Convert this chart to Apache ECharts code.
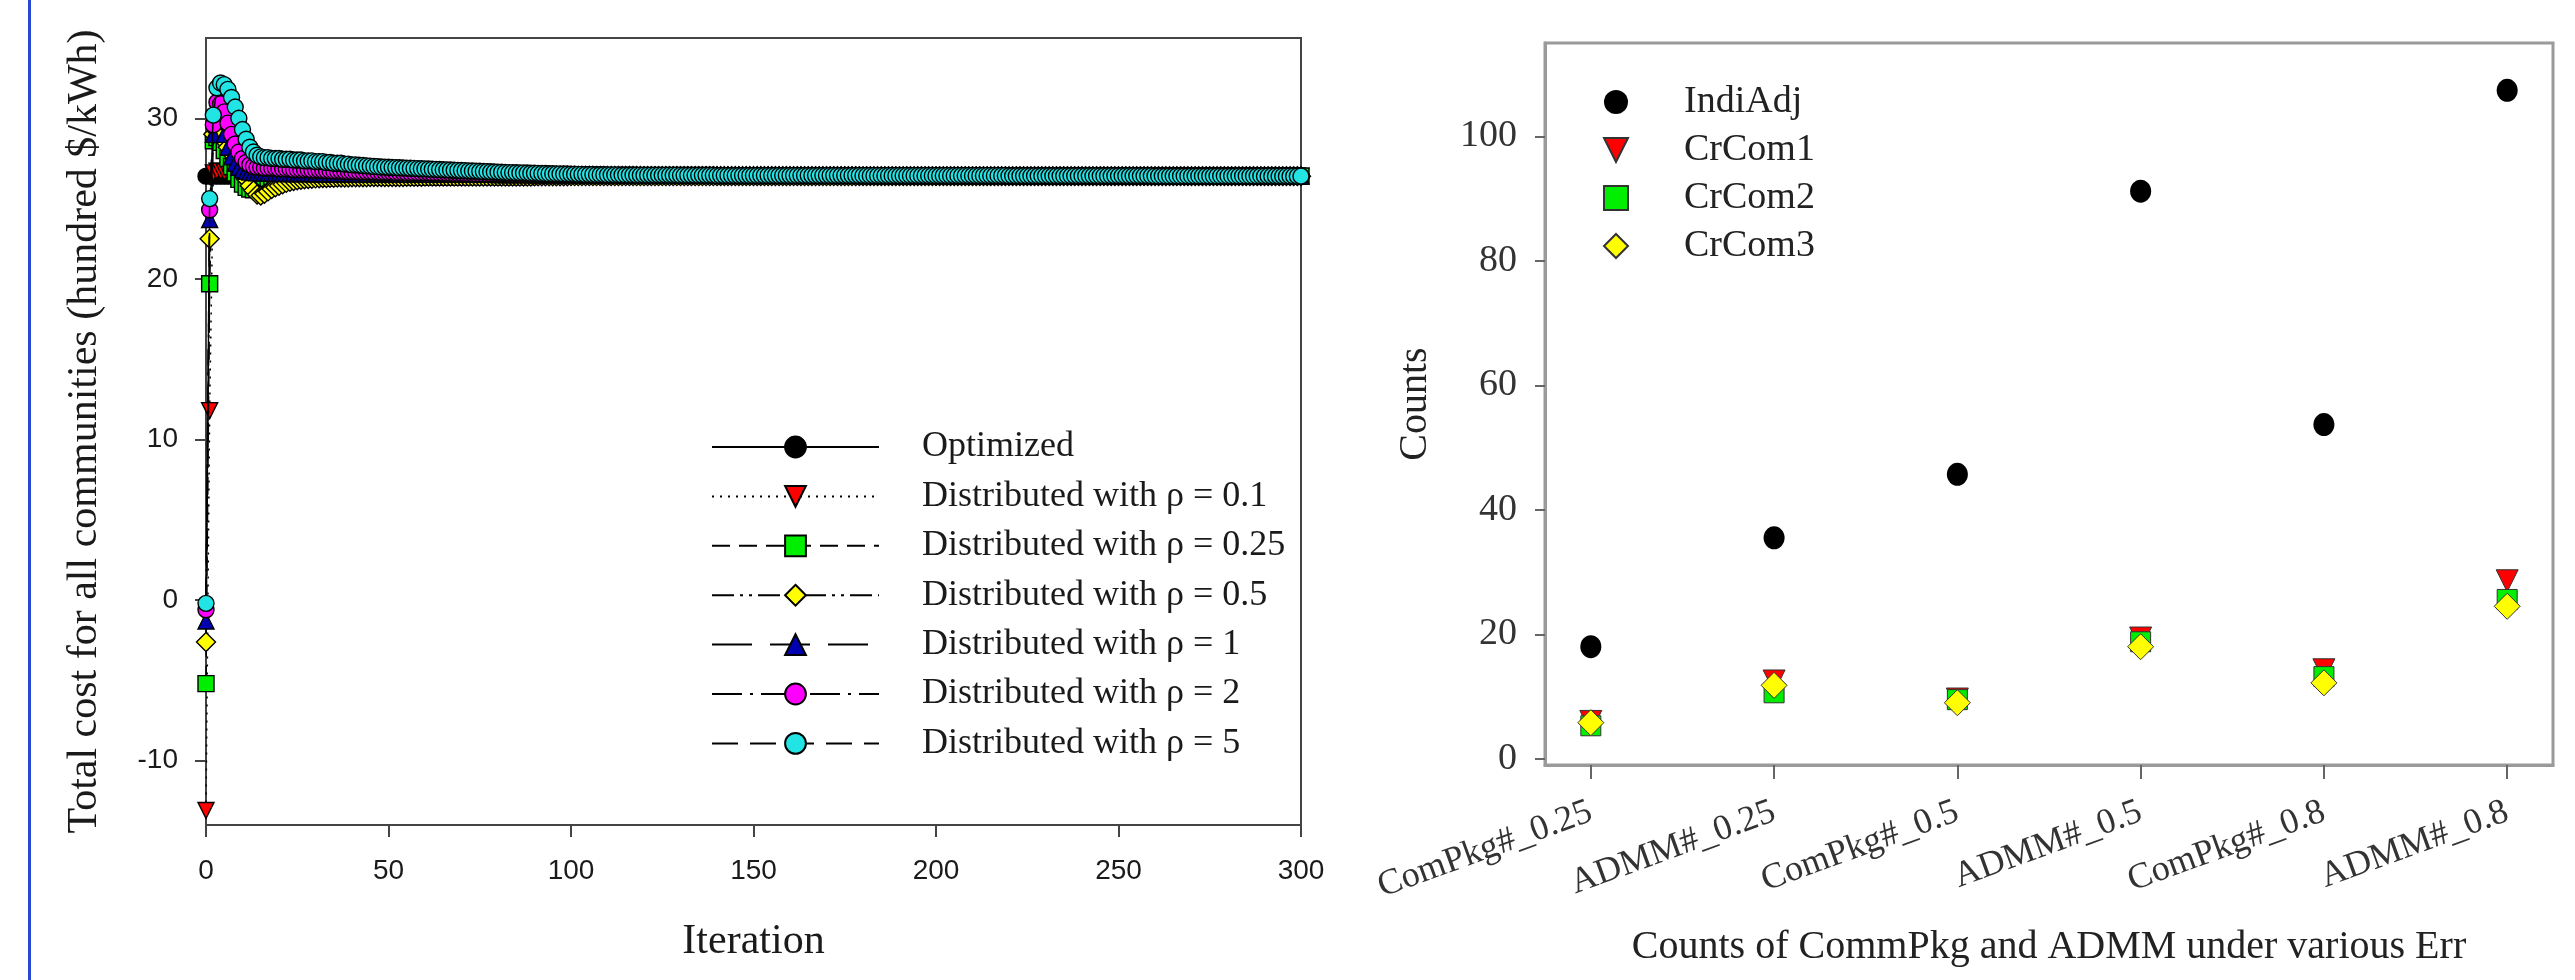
<!DOCTYPE html>
<html>
<head>
<meta charset="utf-8">
<script src="https://cdn.jsdelivr.net/npm/echarts@6/dist/echarts.min.js"></script>
<style>
html,body{margin:0;padding:0;background:#fff;}
#c{width:2575px;height:980px;}
</style>
</head>
<body>
<div id="c"></div>
<script>
// ---------------- Left chart data (total cost per iteration) ----------------
const leftNames = ['Optimized','Distributed with \u03c1 = 0.1','Distributed with \u03c1 = 0.25','Distributed with \u03c1 = 0.5','Distributed with \u03c1 = 1','Distributed with \u03c1 = 2','Distributed with \u03c1 = 5'];
const xTicksLeft = [0, 50, 100, 150, 200, 250, 300];
const yTicksLeft = [-10, 0, 10, 20, 30];

const optimized = [
26.4,26.4,26.4,26.4,26.4,26.4,26.4,26.4,26.4,26.4,26.4,26.4,26.4,26.4,26.4,26.4,26.4,26.4,26.4,26.4,
26.4,26.4,26.4,26.4,26.4,26.4,26.4,26.4,26.4,26.4,26.4,26.4,26.4,26.4,26.4,26.4,26.4,26.4,26.4,26.4,
26.4,26.4,26.4,26.4,26.4,26.4,26.4,26.4,26.4,26.4,26.4,26.4,26.4,26.4,26.4,26.4,26.4,26.4,26.4,26.4,
26.4,26.4,26.4,26.4,26.4,26.4,26.4,26.4,26.4,26.4,26.4,26.4,26.4,26.4,26.4,26.4,26.4,26.4,26.4,26.4,
26.4,26.4,26.4,26.4,26.4,26.4,26.4,26.4,26.4,26.4,26.4,26.4,26.4,26.4,26.4,26.4,26.4,26.4,26.4,26.4,
26.4,26.4,26.4,26.4,26.4,26.4,26.4,26.4,26.4,26.4,26.4,26.4,26.4,26.4,26.4,26.4,26.4,26.4,26.4,26.4,
26.4,26.4,26.4,26.4,26.4,26.4,26.4,26.4,26.4,26.4,26.4,26.4,26.4,26.4,26.4,26.4,26.4,26.4,26.4,26.4,
26.4,26.4,26.4,26.4,26.4,26.4,26.4,26.4,26.4,26.4,26.4,26.4,26.4,26.4,26.4,26.4,26.4,26.4,26.4,26.4,
26.4,26.4,26.4,26.4,26.4,26.4,26.4,26.4,26.4,26.4,26.4,26.4,26.4,26.4,26.4,26.4,26.4,26.4,26.4,26.4,
26.4,26.4,26.4,26.4,26.4,26.4,26.4,26.4,26.4,26.4,26.4,26.4,26.4,26.4,26.4,26.4,26.4,26.4,26.4,26.4,
26.4,26.4,26.4,26.4,26.4,26.4,26.4,26.4,26.4,26.4,26.4,26.4,26.4,26.4,26.4,26.4,26.4,26.4,26.4,26.4,
26.4,26.4,26.4,26.4,26.4,26.4,26.4,26.4,26.4,26.4,26.4,26.4,26.4,26.4,26.4,26.4,26.4,26.4,26.4,26.4,
26.4,26.4,26.4,26.4,26.4,26.4,26.4,26.4,26.4,26.4,26.4,26.4,26.4,26.4,26.4,26.4,26.4,26.4,26.4,26.4,
26.4,26.4,26.4,26.4,26.4,26.4,26.4,26.4,26.4,26.4,26.4,26.4,26.4,26.4,26.4,26.4,26.4,26.4,26.4,26.4,
26.4,26.4,26.4,26.4,26.4,26.4,26.4,26.4,26.4,26.4,26.4,26.4,26.4,26.4,26.4,26.4,26.4,26.4,26.4,26.4,
26.4];

const rho01 = [
-13.1,11.8,26.6,26.7,26.7,26.65,26.6,26.6,26.55,26.55,26.5,26.5,26.5,26.5,26.48,26.48,26.48,26.47,26.47,26.47,
26.46,26.46,26.46,26.46,26.46,26.46,26.46,26.46,26.46,26.46,26.46,26.46,26.46,26.46,26.46,26.46,26.46,26.46,26.46,26.46,
26.45,26.45,26.45,26.45,26.45,26.45,26.45,26.45,26.45,26.45,26.45,26.45,26.45,26.45,26.45,26.45,26.45,26.45,26.45,26.45,
26.44,26.44,26.44,26.44,26.44,26.44,26.44,26.44,26.44,26.44,26.44,26.44,26.44,26.44,26.44,26.44,26.44,26.44,26.44,26.44,
26.43,26.43,26.43,26.43,26.43,26.43,26.43,26.43,26.43,26.43,26.43,26.43,26.43,26.43,26.43,26.43,26.43,26.43,26.43,26.43,
26.42,26.42,26.42,26.42,26.42,26.42,26.42,26.42,26.42,26.42,26.42,26.42,26.42,26.42,26.42,26.42,26.42,26.42,26.42,26.42,
26.42,26.42,26.42,26.42,26.42,26.42,26.42,26.42,26.42,26.42,26.42,26.42,26.42,26.42,26.42,26.42,26.42,26.42,26.42,26.42,
26.41,26.41,26.41,26.41,26.41,26.41,26.41,26.41,26.41,26.41,26.41,26.41,26.41,26.41,26.41,26.41,26.41,26.41,26.41,26.41,
26.41,26.41,26.41,26.41,26.41,26.41,26.41,26.41,26.41,26.41,26.41,26.41,26.41,26.41,26.41,26.41,26.41,26.41,26.41,26.41,
26.4,26.4,26.4,26.4,26.4,26.4,26.4,26.4,26.4,26.4,26.4,26.4,26.4,26.4,26.4,26.4,26.4,26.4,26.4,26.4,
26.4,26.4,26.4,26.4,26.4,26.4,26.4,26.4,26.4,26.4,26.4,26.4,26.4,26.4,26.4,26.4,26.4,26.4,26.4,26.4,
26.4,26.4,26.4,26.4,26.4,26.4,26.4,26.4,26.4,26.4,26.4,26.4,26.4,26.4,26.4,26.4,26.4,26.4,26.4,26.4,
26.4,26.4,26.4,26.4,26.4,26.4,26.4,26.4,26.4,26.4,26.4,26.4,26.4,26.4,26.4,26.4,26.4,26.4,26.4,26.4,
26.4,26.4,26.4,26.4,26.4,26.4,26.4,26.4,26.4,26.4,26.4,26.4,26.4,26.4,26.4,26.4,26.4,26.4,26.4,26.4,
26.4,26.4,26.4,26.4,26.4,26.4,26.4,26.4,26.4,26.4,26.4,26.4,26.4,26.4,26.4,26.4,26.4,26.4,26.4,26.4,
26.4];

const rho025 = [
-5.2,19.7,28.6,28.8,28.5,28.0,27.5,27.0,26.6,26.2,25.9,25.7,25.6,25.55,25.6,25.7,25.8,25.85,25.9,25.95,
26.0,26.05,26.1,26.14,26.17,26.2,26.22,26.24,26.26,26.27,26.28,26.29,26.3,26.3,26.31,26.31,26.32,26.32,26.33,26.33,
26.34,26.34,26.34,26.34,26.34,26.34,26.34,26.34,26.34,26.34,26.35,26.35,26.35,26.35,26.35,26.35,26.35,26.35,26.35,26.35,
26.36,26.36,26.36,26.36,26.36,26.36,26.36,26.36,26.36,26.36,26.37,26.37,26.37,26.37,26.37,26.37,26.37,26.37,26.37,26.37,
26.38,26.38,26.38,26.38,26.38,26.38,26.38,26.38,26.38,26.38,26.39,26.39,26.39,26.39,26.39,26.39,26.39,26.39,26.39,26.39,
26.4,26.4,26.4,26.4,26.4,26.4,26.4,26.4,26.4,26.4,26.4,26.4,26.4,26.4,26.4,26.4,26.4,26.4,26.4,26.4,
26.4,26.4,26.4,26.4,26.4,26.4,26.4,26.4,26.4,26.4,26.4,26.4,26.4,26.4,26.4,26.4,26.4,26.4,26.4,26.4,
26.4,26.4,26.4,26.4,26.4,26.4,26.4,26.4,26.4,26.4,26.4,26.4,26.4,26.4,26.4,26.4,26.4,26.4,26.4,26.4,
26.4,26.4,26.4,26.4,26.4,26.4,26.4,26.4,26.4,26.4,26.4,26.4,26.4,26.4,26.4,26.4,26.4,26.4,26.4,26.4,
26.4,26.4,26.4,26.4,26.4,26.4,26.4,26.4,26.4,26.4,26.4,26.4,26.4,26.4,26.4,26.4,26.4,26.4,26.4,26.4,
26.4,26.4,26.4,26.4,26.4,26.4,26.4,26.4,26.4,26.4,26.4,26.4,26.4,26.4,26.4,26.4,26.4,26.4,26.4,26.4,
26.4,26.4,26.4,26.4,26.4,26.4,26.4,26.4,26.4,26.4,26.4,26.4,26.4,26.4,26.4,26.4,26.4,26.4,26.4,26.4,
26.4,26.4,26.4,26.4,26.4,26.4,26.4,26.4,26.4,26.4,26.4,26.4,26.4,26.4,26.4,26.4,26.4,26.4,26.4,26.4,
26.4,26.4,26.4,26.4,26.4,26.4,26.4,26.4,26.4,26.4,26.4,26.4,26.4,26.4,26.4,26.4,26.4,26.4,26.4,26.4,
26.4,26.4,26.4,26.4,26.4,26.4,26.4,26.4,26.4,26.4,26.4,26.4,26.4,26.4,26.4,26.4,26.4,26.4,26.4,26.4,
26.4];

const rho05 = [
-2.6,22.5,29.0,29.2,29.0,28.6,28.2,27.8,27.4,27.0,26.6,26.2,25.8,25.5,25.25,25.2,25.3,25.45,25.6,25.7,
25.8,25.9,25.98,26.05,26.1,26.14,26.17,26.2,26.22,26.24,26.26,26.27,26.28,26.29,26.3,26.3,26.31,26.31,26.32,26.32,
26.33,26.33,26.33,26.33,26.33,26.34,26.34,26.34,26.34,26.34,26.35,26.35,26.35,26.35,26.35,26.36,26.36,26.36,26.36,26.36,
26.37,26.37,26.37,26.37,26.37,26.37,26.37,26.37,26.37,26.37,26.38,26.38,26.38,26.38,26.38,26.38,26.38,26.38,26.38,26.38,
26.38,26.38,26.38,26.38,26.38,26.38,26.38,26.38,26.38,26.38,26.39,26.39,26.39,26.39,26.39,26.39,26.39,26.39,26.39,26.39,
26.4,26.4,26.4,26.4,26.4,26.4,26.4,26.4,26.4,26.4,26.4,26.4,26.4,26.4,26.4,26.4,26.4,26.4,26.4,26.4,
26.4,26.4,26.4,26.4,26.4,26.4,26.4,26.4,26.4,26.4,26.4,26.4,26.4,26.4,26.4,26.4,26.4,26.4,26.4,26.4,
26.4,26.4,26.4,26.4,26.4,26.4,26.4,26.4,26.4,26.4,26.4,26.4,26.4,26.4,26.4,26.4,26.4,26.4,26.4,26.4,
26.4,26.4,26.4,26.4,26.4,26.4,26.4,26.4,26.4,26.4,26.4,26.4,26.4,26.4,26.4,26.4,26.4,26.4,26.4,26.4,
26.4,26.4,26.4,26.4,26.4,26.4,26.4,26.4,26.4,26.4,26.4,26.4,26.4,26.4,26.4,26.4,26.4,26.4,26.4,26.4,
26.4,26.4,26.4,26.4,26.4,26.4,26.4,26.4,26.4,26.4,26.4,26.4,26.4,26.4,26.4,26.4,26.4,26.4,26.4,26.4,
26.4,26.4,26.4,26.4,26.4,26.4,26.4,26.4,26.4,26.4,26.4,26.4,26.4,26.4,26.4,26.4,26.4,26.4,26.4,26.4,
26.4,26.4,26.4,26.4,26.4,26.4,26.4,26.4,26.4,26.4,26.4,26.4,26.4,26.4,26.4,26.4,26.4,26.4,26.4,26.4,
26.4,26.4,26.4,26.4,26.4,26.4,26.4,26.4,26.4,26.4,26.4,26.4,26.4,26.4,26.4,26.4,26.4,26.4,26.4,26.4,
26.4,26.4,26.4,26.4,26.4,26.4,26.4,26.4,26.4,26.4,26.4,26.4,26.4,26.4,26.4,26.4,26.4,26.4,26.4,26.4,
26.4];

const rho1 = [
-1.3,23.7,29.0,30.2,29.8,29.0,28.2,27.6,27.2,26.95,26.8,26.7,26.65,26.62,26.6,26.6,26.6,26.6,26.58,26.58,
26.58,26.56,26.56,26.56,26.56,26.56,26.56,26.56,26.56,26.56,26.55,26.55,26.55,26.55,26.55,26.55,26.55,26.55,26.55,26.55,
26.54,26.54,26.54,26.54,26.54,26.54,26.54,26.54,26.54,26.54,26.53,26.53,26.53,26.53,26.53,26.53,26.53,26.53,26.53,26.53,
26.52,26.52,26.52,26.52,26.52,26.52,26.52,26.52,26.52,26.52,26.51,26.51,26.51,26.51,26.51,26.51,26.51,26.51,26.51,26.51,
26.5,26.5,26.5,26.5,26.5,26.5,26.5,26.5,26.5,26.5,26.49,26.49,26.49,26.49,26.49,26.49,26.49,26.49,26.49,26.49,
26.48,26.48,26.48,26.48,26.48,26.48,26.48,26.48,26.48,26.48,26.48,26.48,26.48,26.48,26.48,26.48,26.48,26.48,26.48,26.48,
26.47,26.47,26.47,26.47,26.47,26.47,26.47,26.47,26.47,26.47,26.47,26.47,26.47,26.47,26.47,26.47,26.47,26.47,26.47,26.47,
26.46,26.46,26.46,26.46,26.46,26.46,26.46,26.46,26.46,26.46,26.46,26.46,26.46,26.46,26.46,26.46,26.46,26.46,26.46,26.46,
26.45,26.45,26.45,26.45,26.45,26.45,26.45,26.45,26.45,26.45,26.45,26.45,26.45,26.45,26.45,26.45,26.45,26.45,26.45,26.45,
26.44,26.44,26.44,26.44,26.44,26.44,26.44,26.44,26.44,26.44,26.44,26.44,26.44,26.44,26.44,26.44,26.44,26.44,26.44,26.44,
26.43,26.43,26.43,26.43,26.43,26.43,26.43,26.43,26.43,26.43,26.43,26.43,26.43,26.43,26.43,26.43,26.43,26.43,26.43,26.43,
26.42,26.42,26.42,26.42,26.42,26.42,26.42,26.42,26.42,26.42,26.42,26.42,26.42,26.42,26.42,26.42,26.42,26.42,26.42,26.42,
26.42,26.42,26.42,26.42,26.42,26.42,26.42,26.42,26.42,26.42,26.42,26.42,26.42,26.42,26.42,26.42,26.42,26.42,26.42,26.42,
26.41,26.41,26.41,26.41,26.41,26.41,26.41,26.41,26.41,26.41,26.41,26.41,26.41,26.41,26.41,26.41,26.41,26.41,26.41,26.41,
26.41,26.41,26.41,26.41,26.41,26.41,26.41,26.41,26.41,26.41,26.4,26.4,26.4,26.4,26.4,26.4,26.4,26.4,26.4,26.4,
26.4];

const rho2 = [
-0.6,24.3,29.6,31.0,30.9,30.4,29.7,29.0,28.4,27.9,27.5,27.25,27.1,27.0,26.95,26.95,26.9,26.9,26.9,26.9,
26.85,26.85,26.85,26.85,26.8,26.8,26.8,26.8,26.8,26.78,26.78,26.77,26.76,26.75,26.74,26.73,26.72,26.71,26.7,26.69,
26.68,26.68,26.67,26.67,26.66,26.66,26.65,26.65,26.64,26.64,26.63,26.63,26.62,26.62,26.62,26.61,26.61,26.61,26.6,26.6,
26.6,26.6,26.59,26.59,26.59,26.58,26.58,26.58,26.57,26.57,26.57,26.56,26.56,26.56,26.55,26.55,26.55,26.54,26.54,26.54,
26.53,26.53,26.53,26.52,26.52,26.52,26.51,26.51,26.51,26.5,26.5,26.5,26.5,26.49,26.49,26.49,26.49,26.48,26.48,26.48,
26.47,26.47,26.47,26.47,26.47,26.47,26.47,26.47,26.47,26.47,26.46,26.46,26.46,26.46,26.46,26.46,26.46,26.46,26.46,26.46,
26.45,26.45,26.45,26.45,26.45,26.45,26.45,26.45,26.45,26.45,26.45,26.45,26.45,26.45,26.45,26.45,26.45,26.45,26.45,26.45,
26.44,26.44,26.44,26.44,26.44,26.44,26.44,26.44,26.44,26.44,26.44,26.44,26.44,26.44,26.44,26.44,26.44,26.44,26.44,26.44,
26.44,26.44,26.44,26.44,26.44,26.44,26.44,26.44,26.44,26.44,26.44,26.44,26.44,26.44,26.44,26.44,26.44,26.44,26.44,26.44,
26.43,26.43,26.43,26.43,26.43,26.43,26.43,26.43,26.43,26.43,26.43,26.43,26.43,26.43,26.43,26.43,26.43,26.43,26.43,26.43,
26.43,26.43,26.43,26.43,26.43,26.43,26.43,26.43,26.43,26.43,26.43,26.43,26.43,26.43,26.43,26.43,26.43,26.43,26.43,26.43,
26.42,26.42,26.42,26.42,26.42,26.42,26.42,26.42,26.42,26.42,26.42,26.42,26.42,26.42,26.42,26.42,26.42,26.42,26.42,26.42,
26.42,26.42,26.42,26.42,26.42,26.42,26.42,26.42,26.42,26.42,26.42,26.42,26.42,26.42,26.42,26.42,26.42,26.42,26.42,26.42,
26.41,26.41,26.41,26.41,26.41,26.41,26.41,26.41,26.41,26.41,26.41,26.41,26.41,26.41,26.41,26.41,26.41,26.41,26.41,26.41,
26.41,26.41,26.41,26.41,26.41,26.41,26.41,26.41,26.41,26.41,26.4,26.4,26.4,26.4,26.4,26.4,26.4,26.4,26.4,26.4,
26.4];

const rho5 = [
-0.2,25.0,30.2,31.9,32.2,32.1,31.8,31.3,30.7,30.0,29.3,28.7,28.2,27.9,27.7,27.6,27.55,27.55,27.5,27.5,
27.5,27.45,27.45,27.45,27.4,27.4,27.4,27.35,27.35,27.35,27.3,27.3,27.3,27.25,27.25,27.2,27.2,27.2,27.15,27.15,
27.1,27.1,27.08,27.06,27.04,27.02,27.0,26.99,26.97,26.96,26.95,26.94,26.93,26.92,26.91,26.9,26.89,26.88,26.87,26.86,
26.85,26.84,26.83,26.82,26.81,26.8,26.79,26.78,26.77,26.76,26.75,26.74,26.73,26.72,26.71,26.7,26.69,26.68,26.67,26.66,
26.65,26.64,26.63,26.62,26.62,26.61,26.6,26.6,26.59,26.58,26.58,26.57,26.56,26.56,26.55,26.55,26.54,26.54,26.53,26.53,
26.52,26.52,26.51,26.51,26.5,26.5,26.5,26.49,26.49,26.49,26.48,26.48,26.48,26.48,26.47,26.47,26.47,26.47,26.46,26.46,
26.46,26.46,26.46,26.46,26.46,26.46,26.46,26.46,26.46,26.46,26.45,26.45,26.45,26.45,26.45,26.45,26.45,26.45,26.45,26.45,
26.44,26.44,26.44,26.44,26.44,26.44,26.44,26.44,26.44,26.44,26.44,26.44,26.44,26.44,26.44,26.44,26.44,26.44,26.44,26.44,
26.44,26.44,26.44,26.44,26.44,26.44,26.44,26.44,26.44,26.44,26.44,26.44,26.44,26.44,26.44,26.44,26.44,26.44,26.44,26.44,
26.43,26.43,26.43,26.43,26.43,26.43,26.43,26.43,26.43,26.43,26.43,26.43,26.43,26.43,26.43,26.43,26.43,26.43,26.43,26.43,
26.43,26.43,26.43,26.43,26.43,26.43,26.43,26.43,26.43,26.43,26.43,26.43,26.43,26.43,26.43,26.43,26.43,26.43,26.43,26.43,
26.42,26.42,26.42,26.42,26.42,26.42,26.42,26.42,26.42,26.42,26.42,26.42,26.42,26.42,26.42,26.42,26.42,26.42,26.42,26.42,
26.42,26.42,26.42,26.42,26.42,26.42,26.42,26.42,26.42,26.42,26.42,26.42,26.42,26.42,26.42,26.42,26.42,26.42,26.42,26.42,
26.41,26.41,26.41,26.41,26.41,26.41,26.41,26.41,26.41,26.41,26.41,26.41,26.41,26.41,26.41,26.41,26.41,26.41,26.41,26.41,
26.41,26.41,26.41,26.41,26.41,26.41,26.41,26.41,26.41,26.41,26.4,26.4,26.4,26.4,26.4,26.4,26.4,26.4,26.4,26.4,
26.4];

// ---------------- Right chart data (counts) ----------------
const rightCategories = ['ComPkg#_0.25','ADMM#_0.25','ComPkg#_0.5','ADMM#_0.5','ComPkg#_0.8','ADMM#_0.8'];
const rightNames = ['IndiAdj','CrCom1','CrCom2','CrCom3'];
const yTicksRight = [0, 20, 40, 60, 80, 100];
const indiAdj = [18.0, 35.5, 45.7, 91.2, 53.7, 107.4];
const crCom1  = [6.0, 12.5, 9.6, 19.4, 14.3, 28.6];
const crCom2  = [5.3, 10.6, 9.5, 18.8, 13.2, 25.6];
const crCom3  = [5.8, 11.8, 9.0, 18.0, 12.2, 24.5];

// ---------------- Build option ----------------
const SERIF = '"Liberation Serif", "Times New Roman", serif';
const SANS = '"Liberation Sans", Arial, sans-serif';

const leftStyles = [
  {data: optimized, symbol: 'circle', rotate: 0, color: '#000000', dash: 'solid'},
  {data: rho01, symbol: 'triangle', rotate: 180, color: '#ff0000', dash: [2, 6]},
  {data: rho025, symbol: 'rect', rotate: 0, color: '#00ee00', dash: [18, 9]},
  {data: rho05, symbol: 'diamond', rotate: 0, color: '#ffff00', dash: [22, 6, 3, 6, 3, 6]},
  {data: rho1, symbol: 'triangle', rotate: 0, color: '#0000b0', dash: [40, 18]},
  {data: rho2, symbol: 'circle', rotate: 0, color: '#ff00ff', dash: [30, 8, 3, 8]},
  {data: rho5, symbol: 'circle', rotate: 0, color: '#22e4e4', dash: [26, 12]}
];

const leftSeries = leftStyles.map((s, k) => ({
  name: leftNames[k],
  type: 'line',
  xAxisIndex: 0, yAxisIndex: 0,
  data: s.data.map((v, i) => [i, v]),
  symbol: s.symbol,
  symbolRotate: s.rotate,
  symbolSize: s.symbol === 'diamond' ? 19 : 16,
  showSymbol: true,
  lineStyle: {color: '#000', width: 1.5, type: s.dash},
  itemStyle: {color: s.color, borderColor: '#000', borderWidth: 1.4, opacity: 1},
  emphasis: {disabled: true},
  z: 2 + k
}));

const rightStyles = [
  {data: indiAdj, symbol: 'circle', rotate: 0, color: '#000000', size: [21, 23], border: 0},
  {data: crCom1, symbol: 'triangle', rotate: 180, color: '#ff0000', size: 22, border: 1},
  {data: crCom2, symbol: 'rect', rotate: 0, color: '#00ee00', size: 20, border: 1},
  {data: crCom3, symbol: 'diamond', rotate: 0, color: '#ffff00', size: 26, border: 1}
];
const rightSeries = rightStyles.map((s, k) => ({
  name: rightNames[k],
  type: 'scatter',
  xAxisIndex: 1, yAxisIndex: 1,
  data: s.data.map((v, i) => [i, v]),
  symbol: s.symbol,
  symbolRotate: s.rotate,
  symbolSize: s.size,
  itemStyle: {color: s.color, borderColor: '#333', borderWidth: s.border, opacity: 1},
  emphasis: {disabled: true},
  z: 2 + k
}));

const option = {
  animation: false,
  backgroundColor: '#ffffff',
  graphic: [{
    type: 'rect', left: 28, top: 0,
    shape: {width: 3, height: 980},
    style: {fill: '#2a48d8'}
  }],
  grid: [
    {left: 206, top: 38, right: 1274, bottom: 155, show: true, borderColor: '#444', borderWidth: 2, backgroundColor: 'transparent'},
    {left: 1545, top: 43, right: 22, bottom: 215, show: true, borderColor: '#9a9a9a', borderWidth: 3, backgroundColor: 'transparent'}
  ],
  xAxis: [
    {
      type: 'value', gridIndex: 0, min: 0, max: 300, interval: 50,
      name: 'Iteration', nameLocation: 'middle', nameGap: 96,
      nameTextStyle: {fontFamily: SERIF, fontSize: 42, color: '#1a1a1a'},
      axisLine: {show: true, onZero: false, lineStyle: {color: '#444', width: 2}},
      axisTick: {show: true, length: 12, inside: false, lineStyle: {color: '#444', width: 2}},
      axisLabel: {fontFamily: SANS, fontSize: 28, color: '#1a1a1a', margin: 32, customValues: xTicksLeft},
      splitLine: {show: false}
    },
    {
      type: 'value', gridIndex: 1, min: -0.25, max: 5.25,
      name: 'Counts of CommPkg and ADMM under various Err', nameLocation: 'middle', nameGap: 162,
      nameTextStyle: {fontFamily: SERIF, fontSize: 40, color: '#222'},
      axisLine: {show: true, onZero: false, lineStyle: {color: '#9a9a9a', width: 3}},
      axisTick: {show: true, length: 14, inside: false, customValues: [0, 1, 2, 3, 4, 5], lineStyle: {color: '#666', width: 2}},
      axisLabel: {
        fontFamily: SERIF, fontSize: 36, color: '#333', margin: 46, rotate: 20,
        customValues: [0, 1, 2, 3, 4, 5],
        formatter: v => rightCategories[Math.round(v)]
      },
      splitLine: {show: false}
    }
  ],
  yAxis: [
    {
      type: 'value', gridIndex: 0, min: -14, max: 35,
      name: 'Total cost for all communities (hundred $/kWh)', nameLocation: 'middle', nameGap: 100,
      nameTextStyle: {fontFamily: SERIF, fontSize: 42, color: '#1a1a1a'},
      axisLine: {show: true, onZero: false, lineStyle: {color: '#444', width: 2}},
      axisTick: {show: true, length: 11, inside: false, customValues: yTicksLeft, lineStyle: {color: '#444', width: 2}},
      axisLabel: {fontFamily: SANS, fontSize: 28, color: '#1a1a1a', margin: 28, customValues: yTicksLeft},
      splitLine: {show: false}
    },
    {
      type: 'value', gridIndex: 1, min: -1, max: 115,
      name: 'Counts', nameLocation: 'middle', nameGap: 110,
      nameTextStyle: {fontFamily: SERIF, fontSize: 40, color: '#222'},
      axisLine: {show: true, onZero: false, lineStyle: {color: '#9a9a9a', width: 3}},
      axisTick: {show: true, length: 10, inside: false, customValues: yTicksRight, lineStyle: {color: '#666', width: 2}},
      axisLabel: {fontFamily: SERIF, fontSize: 38, color: '#333', margin: 28, customValues: yTicksRight},
      splitLine: {show: false}
    }
  ],
  legend: [
    {
      data: leftNames, orient: 'vertical', left: 706, top: 422,
      itemWidth: 167, itemHeight: 26, itemGap: 9.4,
      selectedMode: false,
      textStyle: {fontFamily: SERIF, fontSize: 36, color: '#1a1a1a', lineHeight: 40, padding: [0, 0, 0, 38]}
    },
    {
      data: [
        {name: 'IndiAdj'},
        {name: 'CrCom1', icon: 'path://M0,0L10,0L5,10Z'},
        {name: 'CrCom2'},
        {name: 'CrCom3'}
      ],
      orient: 'vertical', left: 1598, top: 77,
      itemWidth: 24, itemHeight: 24, itemGap: 8,
      selectedMode: false,
      textStyle: {fontFamily: SERIF, fontSize: 38, color: '#222', lineHeight: 40, padding: [0, 0, 0, 51]}
    }
  ],
  series: leftSeries.concat(rightSeries)
};

const chart = echarts.init(document.getElementById('c'), null, {renderer: 'canvas', width: 2575, height: 980});
chart.setOption(option);
</script>
</body>
</html>
